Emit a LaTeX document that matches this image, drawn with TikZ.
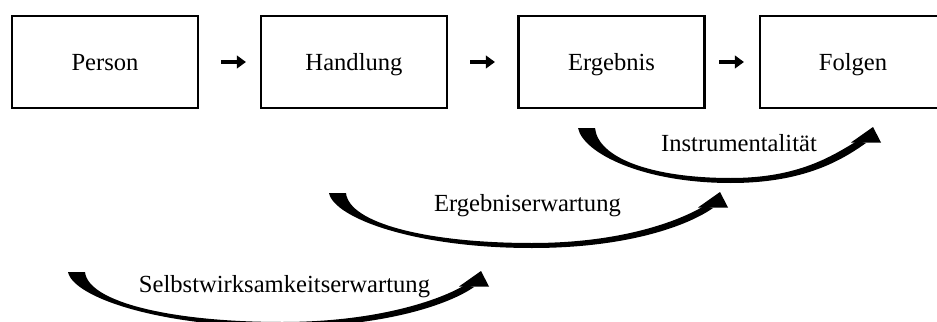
\documentclass[tikz,border=0pt]{standalone}
\usepackage{fontspec}
\setmainfont{Liberation Serif}
\usepackage{tikz}
\usetikzlibrary{arrows.meta, positioning}

\tikzset{
  stage/.style={draw, line width=1.2pt, minimum width=3.72cm, minimum height=1.84cm,
    text height=11pt, text depth=1pt, font=\fontsize{14}{16}\selectfont},
  step arrow/.style={-{Triangle[length=0.18cm, width=0.25cm]}, line width=0.09cm},
  swoosh label/.style={anchor=base, font=\fontsize{14}{16}\selectfont},
  pics/swoosh/.style={code={
    \fill (0,0) .. controls (0.1,-0.5) and ({0.22*#1},-1.10) .. ({0.52*#1},-1.10)
      .. controls ({0.77*#1},-1.10) and ({#1-0.6},-0.64) .. ({#1-0.12},-0.30)
      -- ({#1-0.30},-0.26)
      .. controls ({#1-0.8},-0.56) and ({0.75*#1},-1.00) .. ({0.52*#1},-1.00)
      .. controls ({0.25*#1},-1.00) and (0.4,-0.6) .. (0.34,0) -- cycle;
    \fill ({#1-0.42},-0.29) -- ({#1+0.18},-0.29) -- ({#1+0.02},0.02) -- cycle;
  }}
}

\begin{document}
\begin{tikzpicture}
  \useasboundingbox (0,0) rectangle (18.74,-6.44);
  \clip (0,0) rectangle (18.74,-6.44);

  % Stages
  \node[stage] (person) at (2.10,-1.24) {Person};
  \node[stage] (handlung) at (7.08,-1.24) {Handlung};
  \node[stage] (ergebnis) at (12.23,-1.24) {Ergebnis};
  \node[stage] (folgen) at (17.06,-1.24) {Folgen};

  % Arrows between stages
  \draw[step arrow, shorten <=0.44cm, shorten >=0.28cm] (person) -- (handlung);
  \draw[step arrow, shorten <=0.44cm, shorten >=0.45cm] (handlung) -- (ergebnis);
  \draw[step arrow, shorten <=0.27cm, shorten >=0.30cm] (ergebnis) -- (folgen);

  % Expectations
  \pic (instr) at (11.56,-2.56) {swoosh=5.88};
  \node[swoosh label] (instrlabel) at (14.78,-3.02) {Instrumentalität};

  \pic (erwart) at (6.58,-3.86) {swoosh=7.80};
  \node[swoosh label] (erwartlabel) at (10.55,-4.22) {Ergebniserwartung};

  \pic (selbst) at (1.36,-5.44) {swoosh=8.24};
  \node[swoosh label] (selbstlabel) at (5.69,-5.84) {Selbstwirksamkeitserwartung};
\end{tikzpicture}
\end{document}
